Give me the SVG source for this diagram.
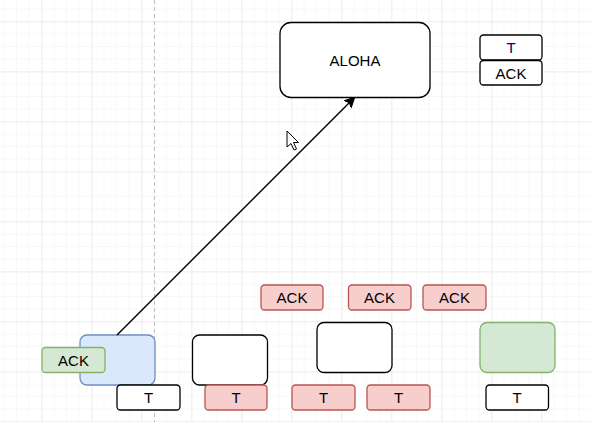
<svg xmlns="http://www.w3.org/2000/svg" width="591" height="422" viewBox="0 0 591 422">
<defs>
<pattern id="minor" x="4.5" y="9.5" width="12.5" height="12.5" patternUnits="userSpaceOnUse">
<path d="M12.5 0 V12.5 M0 12.5 H12.5" fill="none" stroke="#f1f1f1" stroke-width="1"/>
</pattern>
<pattern id="major" x="-7.5" y="-27.5" width="50" height="50" patternUnits="userSpaceOnUse">
<path d="M50 0 V50 M0 50 H50" fill="none" stroke="#e0e0e0" stroke-width="1"/>
</pattern>
<marker id="arrow" viewBox="0 0 10 10" refX="9" refY="5" markerWidth="10" markerHeight="10" markerUnits="userSpaceOnUse" orient="auto">
<path d="M0 0 L10 5 L0 10 L2.5 5 Z" fill="#000" stroke="#000" stroke-width="1"/>
</marker>
</defs>
<style>
.lbl{font-family:"Liberation Sans",Arial,sans-serif;font-size:15px;text-anchor:middle;dominant-baseline:central;fill:#000}
.white{fill:#fff;stroke:#000;stroke-width:1.3}
.red{fill:#f8cecc;stroke:#b85450;stroke-width:1.3}
.green{fill:#d5e8d4;stroke:#82b366;stroke-width:1.3}
.blue{fill:#dae8fc;stroke:#6c8ebf;stroke-width:1.3}
</style>
<rect width="591" height="422" fill="#fff"/>
<rect width="591" height="422" fill="url(#minor)"/>
<rect width="591" height="422" fill="url(#major)"/>
<line x1="154.5" y1="0" x2="154.5" y2="422" stroke="#c0c0c0" stroke-width="1" stroke-dasharray="4 3"/>

<g id="aloha"><rect class="white" x="280" y="22.5" width="150" height="75" rx="11"/><text class="lbl" x="355" y="60">ALOHA</text></g>
<g id="legend-t"><rect class="white" x="480" y="35" width="62" height="25" rx="3.5"/><text class="lbl" x="511" y="47.5" style="fill:#000080">T</text></g>
<g id="legend-ack"><rect class="white" x="480" y="60.5" width="62" height="24.5" rx="3.5"/><text class="lbl" x="511" y="73">ACK</text></g>

<g id="station1"><rect class="blue" x="80" y="335" width="75" height="50" rx="7"/></g>
<g id="ack-green"><rect class="green" x="42" y="347.5" width="63" height="25" rx="3.5"/><text class="lbl" x="73.5" y="360">ACK</text></g>
<g id="t1"><rect class="white" x="117" y="385" width="63" height="25" rx="3.5"/><text class="lbl" x="148.5" y="397.5">T</text></g>

<g id="station2"><rect class="white" x="192.5" y="335" width="75" height="50" rx="7"/></g>
<g id="t2"><rect class="red" x="205" y="385" width="62" height="25" rx="3.5"/><text class="lbl" x="236" y="397.5">T</text></g>

<g id="ack1"><rect class="red" x="261" y="285" width="62" height="25" rx="3.5"/><text class="lbl" x="292" y="297.5">ACK</text></g>
<g id="ack2"><rect class="red" x="348.5" y="285" width="62.5" height="25" rx="3.5"/><text class="lbl" x="379.5" y="297.5">ACK</text></g>
<g id="ack3"><rect class="red" x="423" y="285" width="63" height="25" rx="3.5"/><text class="lbl" x="454.5" y="297.5">ACK</text></g>

<g id="station3"><rect class="white" x="317" y="322.5" width="75" height="50" rx="7"/></g>
<g id="t3"><rect class="red" x="292" y="385" width="63" height="25" rx="3.5"/><text class="lbl" x="323.5" y="397.5">T</text></g>
<g id="t4"><rect class="red" x="367" y="385" width="63" height="25" rx="3.5"/><text class="lbl" x="398.5" y="397.5">T</text></g>

<g id="station4"><rect class="green" x="480" y="322.5" width="75" height="50" rx="7"/></g>
<g id="t5"><rect class="white" x="486" y="385" width="62.5" height="25" rx="3.5"/><text class="lbl" x="517" y="397.5">T</text></g>

<g id="connectors">
<line x1="117" y1="335" x2="354" y2="98" stroke="#000" stroke-width="1.4" marker-end="url(#arrow)"/>
</g>

<path d="M287 131 L287 147 L291 143.5 L294 150 L296.5 149 L293.5 142.5 L298.5 142.5 Z" fill="#fff" stroke="#000" stroke-width="1" stroke-linejoin="round"/>
</svg>
